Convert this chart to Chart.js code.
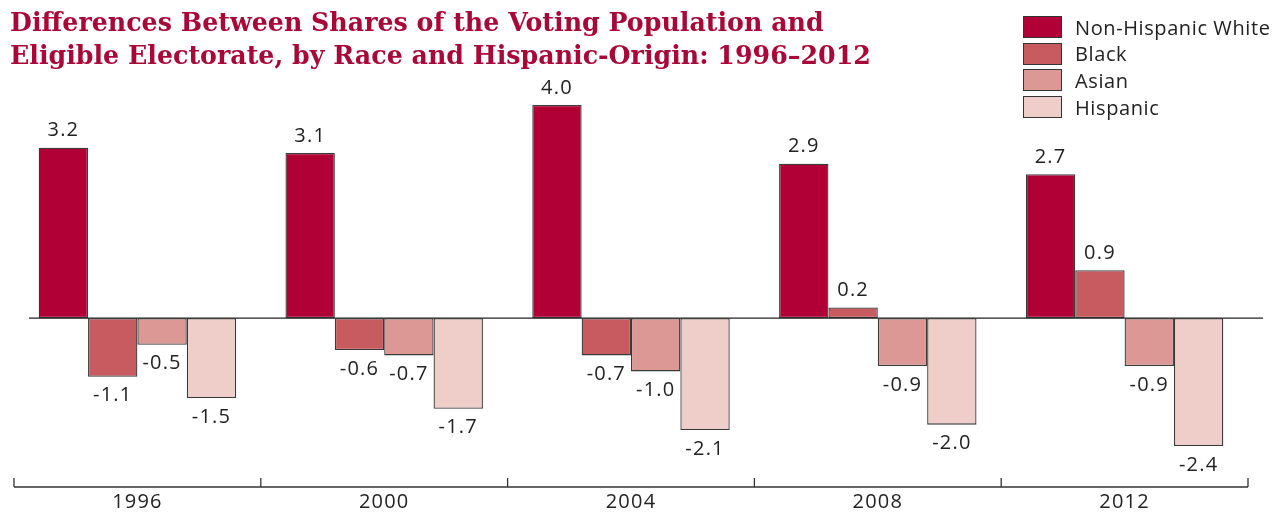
<!DOCTYPE html>
<html>
<head>
<meta charset="utf-8">
<script src="https://cdn.jsdelivr.net/npm/chart.js@4.4.0/dist/chart.umd.min.js"></script>
<style>
  html, body { margin: 0; padding: 0; background: #fff; }
  #wrap { position: relative; width: 1285px; height: 517px; }
  #title {
    position: absolute; left: 10px; top: 6px; margin: 0;
    font-family: "DejaVu Serif", serif; font-weight: bold; font-size: 25.3px;
    line-height: 33px; color: #a80838;
  }
  #legend { position: absolute; left: 1023px; top: 14px; font-family: "Open Sans", sans-serif; font-size: 20px; letter-spacing: 0.6px; color: #222; }
  .item { display: flex; align-items: center; height: 26.6px; }
  .sw { width: 37px; height: 20px; border: 1px solid #333; margin-right: 13px; }
  canvas { position: absolute; left: 0; top: 0; }
</style>
</head>
<body>
<div id="wrap">
  <canvas id="chart" width="1285" height="517"></canvas>
  <div id="title">Differences Between Shares of the Voting Population and<br>Eligible Electorate, by Race and Hispanic-Origin: 1996–2012</div>
  <div id="legend"></div>
</div>
<script>
var years = ["1996", "2000", "2004", "2008", "2012"];
var seriesNames = ["Non-Hispanic White", "Black", "Asian", "Hispanic"];
var white = [3.2, 3.1, 4.0, 2.9, 2.7];
var black = [-1.1, -0.6, -0.7, 0.2, 0.9];
var asian = [-0.5, -0.7, -1.0, -0.9, -0.9];
var hispanic = [-1.5, -1.7, -2.1, -2.0, -2.4];
var colors = ["#b00035", "#c75b5f", "#dc9895", "#efcdc9"];

var seriesValues = [white, black, asian, hispanic];

// html legend built from the series
var legendEl = document.getElementById('legend');
seriesNames.forEach(function(name, i) {
    var row = document.createElement('div');
    row.className = 'item';
    row.innerHTML = '<span class="sw" style="background:' + colors[i] + '"></span><span>' + name + '</span>';
    legendEl.appendChild(row);
});

var valueLabels = {
    id: 'valueLabels',
    beforeDraw: function(chart) {
        // wider digit spacing like the original
        chart.ctx.letterSpacing = '1.2px';
    },
    afterDatasetsDraw: function(chart) {
        var ctx = chart.ctx;
        var area = chart.chartArea;
        var y0 = chart.scales.y.getPixelForValue(0);
        ctx.save();
        // zero line
        ctx.strokeStyle = '#222';
        ctx.lineWidth = 1.2;
        ctx.beginPath();
        ctx.moveTo(area.left + 15, y0);
        ctx.lineTo(area.right + 15, y0);
        ctx.stroke();

        // bottom axis with category separators
        ctx.strokeStyle = '#333';
        ctx.lineWidth = 1.3;
        ctx.beginPath();
        ctx.moveTo(area.left, area.bottom);
        ctx.lineTo(area.right, area.bottom);
        var step = (area.right - area.left) / years.length;
        for (var k = 0; k <= years.length; k++) {
            var x = area.left + k * step;
            ctx.moveTo(x, area.bottom);
            ctx.lineTo(x, area.bottom - 9);
        }
        ctx.stroke();

        ctx.fillStyle = '#222';
        ctx.font = '20px "Open Sans", sans-serif';
        ctx.textAlign = 'center';
        ctx.textBaseline = 'middle';
        chart.data.datasets.forEach(function(ds, i) {
            var meta = chart.getDatasetMeta(i);
            meta.data.forEach(function(bar, j) {
                var v = ds.data[j];
                var y = v >= 0 ? bar.y - 17 : bar.y + 19;
                ctx.fillText(v.toFixed(1), bar.x, y);
            });
        });
        ctx.restore();
    }
};

new Chart(document.getElementById('chart'), {
    type: 'bar',
    data: {
        labels: years,
        datasets: seriesNames.map(function(name, i) {
            return {
                label: name,
                data: seriesValues[i],
                backgroundColor: colors[i],
                borderColor: '#3a3a3a',
                borderWidth: 1.3,
                borderSkipped: false,
                barPercentage: 1.0,
                categoryPercentage: 0.8
            };
        })
    },
    options: {
        responsive: false,
        animation: false,
        layout: { padding: { left: 14, right: 37, top: 78.4, bottom: 0 } },
        plugins: {
            legend: { display: false },
            title: { display: false },
            tooltip: { enabled: false }
        },
        scales: {
            x: {
                grid: { display: false, drawTicks: false },
                border: { display: false },
                ticks: { color: '#222', font: { family: 'Open Sans', size: 20 }, padding: 3 }
            },
            y: {
                display: false,
                min: -3.17,
                max: 4.5
            }
        }
    },
    plugins: [valueLabels]
});
</script>
</body>
</html>
